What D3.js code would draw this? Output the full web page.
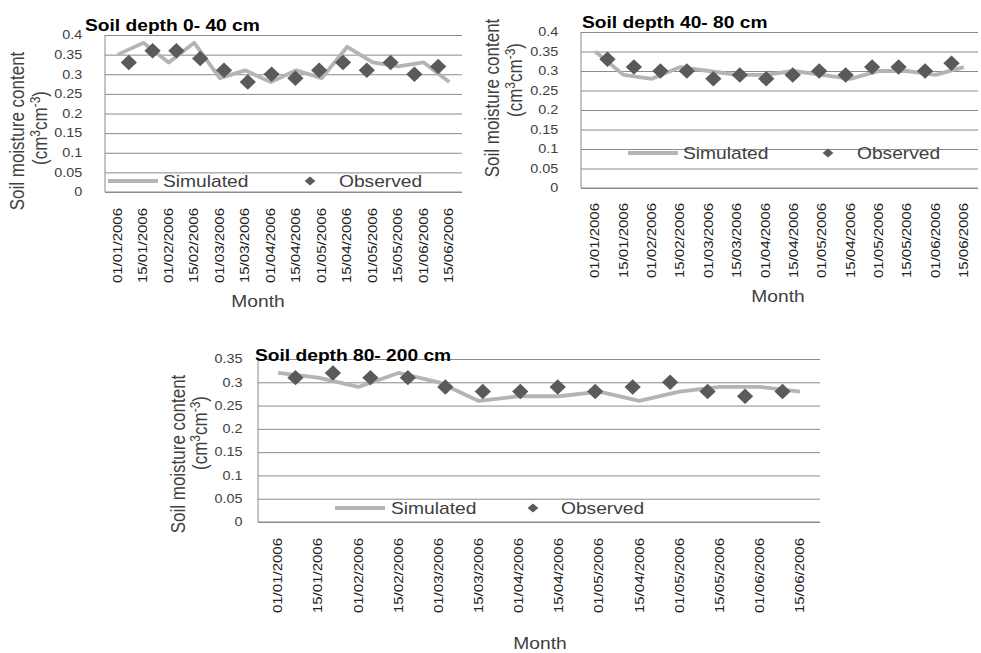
<!DOCTYPE html>
<html>
<head>
<meta charset="utf-8">
<script src="https://cdn.jsdelivr.net/npm/d3@7"></script>
<style>
    body { margin: 0; background: #fff; }
    svg { font-family: "Liberation Sans", Arial, sans-serif; }
</style>
</head>
<body>
<svg id="chart" width="981" height="653"></svg>
<script>

// tick labels (typos kept as in the original figure)
const dates = ["01/01/2006", "15/01/2006", "01/02/2006", "15/02/2006", "01/03/2006", "15/03/2006", "01/04/2006",
    "15/04/2006", "01/05/2006", "15/04/2006", "01/05/2006", "15/05/2006", "01/06/2006", "15/06/2006"];
const yTicks40 = [0, 0.05, 0.1, 0.15, 0.2, 0.25, 0.3, 0.35, 0.4];
const yTicks35 = [0, 0.05, 0.1, 0.15, 0.2, 0.25, 0.3, 0.35];

// 0-40 cm
const sim0_40 = [0.35, 0.38, 0.33, 0.38, 0.29, 0.31, 0.28, 0.31, 0.29, 0.37, 0.33, 0.32, 0.33, 0.28];
const obs0_40 = [0.33, 0.36, 0.36, 0.34, 0.31, 0.28, 0.30, 0.29, 0.31, 0.33, 0.31, 0.33, 0.30, 0.32];
// 40-80 cm
const sim40_80 = [0.35, 0.29, 0.28, 0.31, 0.30, 0.29, 0.29, 0.30, 0.29, 0.28, 0.30, 0.30, 0.29, 0.31];
const obs40_80 = [0.33, 0.31, 0.30, 0.30, 0.28, 0.29, 0.28, 0.29, 0.30, 0.29, 0.31, 0.31, 0.30, 0.32];
// 80-200 cm
const sim80_200 = [0.32, 0.31, 0.29, 0.32, 0.30, 0.26, 0.27, 0.27, 0.28, 0.26, 0.28, 0.29, 0.29, 0.28];
const obs80_200 = [0.31, 0.32, 0.31, 0.31, 0.29, 0.28, 0.28, 0.29, 0.28, 0.29, 0.30, 0.28, 0.27, 0.28];

const SX = 1.2;   // horizontal text stretch
const SY = 1.25;  // date labels look stretched along their length

class SoilPanel {

    constructor( config, sim, obs ) {
        this.config = config;
        this.sim = sim;
        this.obs = obs;
        this.init();
        this.render();
    }

    init() {
        let self = this;
        const c = self.config;

        self.svg = d3.select('#chart');
        self.chart = self.svg.append('g')
            .attr('transform', `translate(${c.left}, ${c.top})`);

        self.xscale = d3.scaleBand()
            .domain( d3.range(dates.length) )
            .range( [0, c.width] );

        // observed series sits on its own (secondary) category axis
        self.xscale2 = d3.scaleLinear()
            .domain( [0, dates.length + 1] )
            .range( [0, c.width] );

        self.yscale = d3.scaleLinear()
            .domain( [0, c.ymax] )
            .range( [c.height, 0] );
    }

    render() {
        let self = this;
        const c = self.config;

        // grid
        const grid = self.chart.append('g')
            .call( d3.axisLeft(self.yscale).tickValues(c.ticks).tickSize(-c.width).tickFormat('') );
        grid.select('.domain').remove();
        grid.selectAll('line').attr('stroke', '#8a8a8a');

        // y axis labels
        const yaxis = self.chart.append('g')
            .call( d3.axisLeft(self.yscale).tickValues(c.ticks).tickSize(0).tickPadding(c.yPad)
                .tickFormat(d => d3.format('')(+d.toFixed(2))) );
        yaxis.select('.domain').remove();
        yaxis.selectAll('text')
            .attr('fill', '#404040')
            .attr('font-size', '12px')
            .attr('font-family', '"Liberation Sans", Arial, sans-serif')
            .attr('transform', `scale(${SX},1)`);

        // left + bottom border
        self.chart.append('line')
            .attr('x1', 0).attr('x2', 0).attr('y1', 0).attr('y2', c.height)
            .attr('stroke', '#8a8a8a');
        self.chart.append('line')
            .attr('x1', 0).attr('x2', c.width).attr('y1', c.height).attr('y2', c.height)
            .attr('stroke', '#8a8a8a');

        // x axis labels
        const xaxis = self.chart.append('g')
            .attr('transform', `translate(0, ${c.height})`)
            .call( d3.axisBottom(self.xscale).tickSize(0).tickFormat(i => dates[i]) );
        xaxis.select('.domain').remove();
        xaxis.selectAll('text')
            .attr('fill', '#202020')
            .attr('font-size', '12px')
            .attr('font-family', '"Liberation Sans", Arial, sans-serif')
            .attr('text-anchor', 'end')
            .attr('x', -c.xPad / SY)
            .attr('y', 0)
            .attr('dy', '0.35em')
            .attr('transform', `scale(1,${SY}) rotate(-90)`);

        // simulated line
        const line = d3.line()
            .x( (d, i) => self.xscale(i) + self.xscale.bandwidth() / 2 )
            .y( d => self.yscale(d) );
        self.chart.append('path')
            .datum(self.sim)
            .attr('d', line)
            .attr('fill', 'none')
            .attr('stroke', '#b4b4b4')
            .attr('stroke-width', 3.8)
            .attr('stroke-linejoin', 'round');

        // observed diamonds
        const diamond = d3.symbol(d3.symbolSquare, 120);
        self.chart.selectAll('.obs')
            .data(self.obs)
            .join('path')
            .attr('class', 'obs')
            .attr('d', diamond)
            .attr('fill', '#5a5a5a')
            .attr('transform', (d, i) => `translate(${self.xscale2(i + 1)}, ${self.yscale(d)}) scale(1.05,1) rotate(45)`);

        // legend
        const lg = self.chart.append('g')
            .attr('transform', `translate(0, ${c.legendY})`);
        lg.append('line')
            .attr('x1', c.legend[0]).attr('x2', c.legend[0] + 50)
            .attr('stroke', '#b4b4b4').attr('stroke-width', 3.8);
        self.stretchText(lg, c.legend[1], 6, 'Simulated', '16px', '#404040');
        lg.append('path')
            .attr('d', d3.symbol(d3.symbolSquare, 40))
            .attr('fill', '#5a5a5a')
            .attr('transform', `translate(${c.legend[2]}, 0) scale(${SX},1) rotate(45)`);
        self.stretchText(lg, c.legend[3], 6, 'Observed', '16px', '#404040');

        // title
        self.stretchText(self.svg, c.titleX, c.titleY, c.title, '16px', '#000')
            .attr('font-weight', 'bold');

        // axis titles
        self.stretchText(self.svg, c.monthX, c.monthY, 'Month', '16px', '#404040')
            .attr('text-anchor', 'middle');

        self.stretchText(self.svg, c.ylab[0], c.ylab[1], 'Soil moisture content', '17px', '#404040', true)
            .attr('text-anchor', 'middle')
            .attr('dy', '0.35em');

        const unit = self.stretchText(self.svg, c.unit[0], c.unit[1], '', '17px', '#404040', true)
            .attr('text-anchor', 'middle')
            .attr('dy', '0.35em');
        unit.append('tspan').text('(cm');
        unit.append('tspan').attr('font-size', '12px').attr('dy', '-6').text('3');
        unit.append('tspan').attr('dy', '6').text('cm');
        unit.append('tspan').attr('font-size', '12px').attr('dy', '-6').text('-3');
        unit.append('tspan').attr('dy', '6').text(')');
    }

    stretchText( parent, x, y, str, size, color, vertical ) {
        return parent.append('text')
            .attr('transform', `translate(${x}, ${y}) scale(${SX},1)` + (vertical ? ' rotate(-90)' : ''))
            .attr('font-size', size)
            .attr('fill', color)
            .text(str);
    }
}

new SoilPanel({
    left: 105, top: 35, width: 357, height: 157, ymax: 0.4, ticks: yTicks40,
    yPad: 19, xPad: 16,
    title: 'Soil depth  0- 40 cm', titleX: 85, titleY: 31,
    monthX: 258, monthY: 307,
    ylab: [17, 131], unit: [40, 128],
    legendY: 146, legend: [3, 58, 205, 234]
}, sim0_40, obs0_40);

new SoilPanel({
    left: 581, top: 32, width: 397, height: 156, ymax: 0.4, ticks: yTicks40,
    yPad: 19, xPad: 15,
    title: 'Soil depth  40- 80 cm', titleX: 582, titleY: 28,
    monthX: 778, monthY: 302,
    ylab: [492, 98], unit: [515, 80],
    legendY: 121, legend: [47, 102, 247, 276]
}, sim40_80, obs40_80);

new SoilPanel({
    left: 258, top: 359, width: 562, height: 163, ymax: 0.35, ticks: yTicks35,
    yPad: 13, xPad: 16,
    title: 'Soil depth  80- 200 cm', titleX: 255, titleY: 361,
    monthX: 540, monthY: 649,
    ylab: [178, 454], unit: [200, 433],
    legendY: 149, legend: [77, 133, 275, 303]
}, sim80_200, obs80_200);

</script>
</body>
</html>
